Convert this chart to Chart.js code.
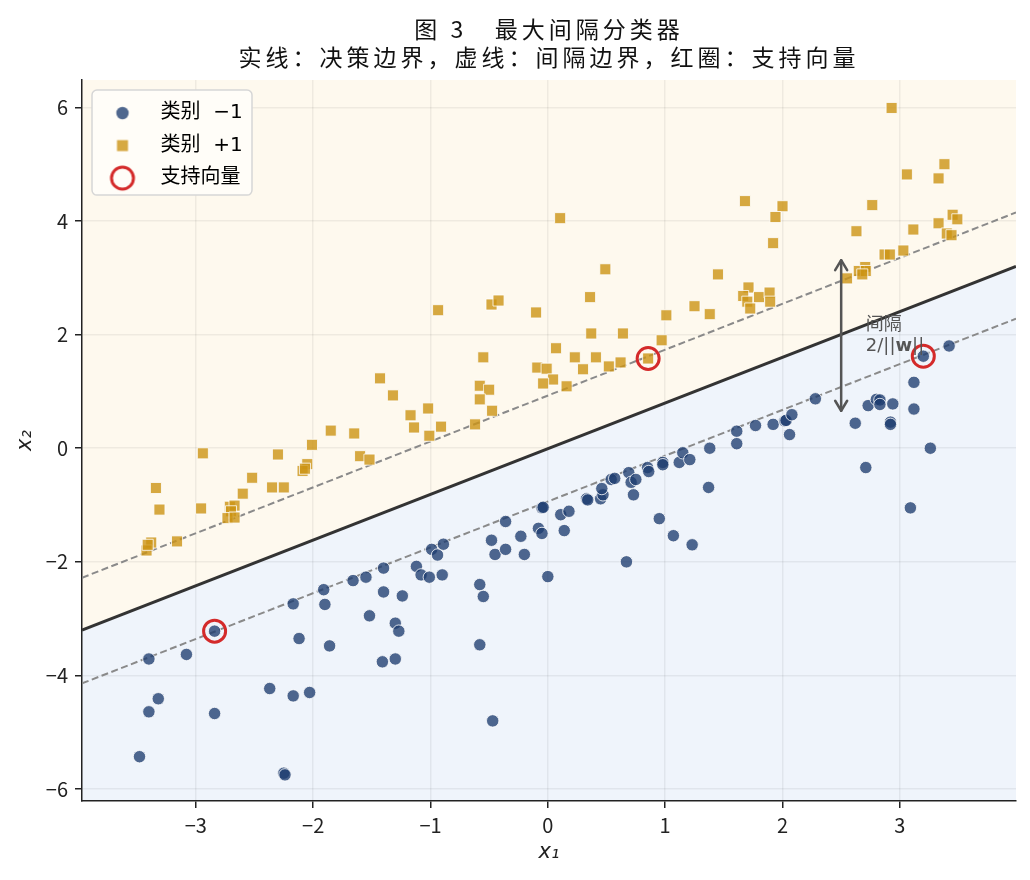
<!DOCTYPE html>
<html>
<head>
<meta charset="utf-8">
<script src="https://cdn.jsdelivr.net/npm/chart.js@4.4.1/dist/chart.umd.min.js"></script>
<style>
  html, body { margin: 0; padding: 0; background: #fff; }
</style>
</head>
<body>
<canvas id="chart" width="1030" height="880"></canvas>
<script>
// class -1 points (blue circles)
const negX = [-2.84, -3.40, -3.08, -3.32, -3.40, -2.84, -3.48, -2.25, -2.24, -2.17,
  -1.91, -1.90, -2.12, -1.86, -2.37, -2.17, -2.03, -1.66, -1.55, -1.40,
  -1.40, -1.52, -1.30, -1.27, -1.41, -1.30, -1.24, -1.12, -1.08, -1.01,
  -0.99, -0.94, -0.89, -0.90, -0.58, -0.55, -0.58, -0.47, -0.48, -0.45,
  -0.36, -0.36, -0.23, -0.20, -0.08, -0.05, -0.05, -0.04, 0.00, 0.11,
  0.18, 0.14, 0.33, 0.34, 0.45, 0.47, 0.46, 0.54, 0.57, 0.69,
  0.71, 0.75, 0.73, 0.67, 0.85, 0.86, 0.98, 0.98, 0.95, 1.07,
  1.12, 1.15, 1.21, 1.23, 1.37, 1.38, 1.61, 1.61, 1.77, 1.92,
  2.02, 2.03, 2.08, 2.06, 2.28, 2.62, 2.71, 2.73, 2.80, 2.83,
  2.83, 2.94, 2.92, 2.92, 3.12, 3.12, 3.20, 3.42, 3.26, 3.09];
const negY = [-3.22, -3.71, -3.63, -4.41, -4.64, -4.67, -5.43, -5.72, -5.75, -2.74,
  -2.49, -2.75, -3.35, -3.48, -4.23, -4.36, -4.30, -2.33, -2.27, -2.11,
  -2.53, -2.95, -3.08, -3.22, -3.76, -3.71, -2.60, -2.08, -2.23, -2.27,
  -1.78, -1.88, -1.69, -2.23, -2.40, -2.61, -3.46, -4.80, -1.62, -1.87,
  -1.78, -1.29, -1.55, -1.87, -1.41, -1.50, -1.05, -1.04, -2.26, -1.17,
  -1.11, -1.45, -0.89, -0.91, -0.89, -0.82, -0.71, -0.55, -0.53, -0.43,
  -0.60, -0.55, -0.82, -2.00, -0.34, -0.41, -0.25, -0.29, -1.24, -1.54,
  -0.25, -0.08, -0.20, -1.70, -0.69, 0.00, 0.30, 0.08, 0.40, 0.42,
  0.48, 0.49, 0.59, 0.24, 0.87, 0.44, -0.34, 0.75, 0.86, 0.85,
  0.77, 0.78, 0.46, 0.42, 1.16, 0.69, 1.62, 1.80, 0.00, -1.05];

// class +1 points (gold squares)
const posX = [-2.94, -2.30, -2.01, -1.60, -1.52, -2.05, -2.09, -2.07, -2.52, -3.34,
  -2.35, -2.25, -2.60, -3.31, -2.955, -2.71, -2.67, -2.70, -2.73, -2.67,
  -3.38, -3.42, -3.41, -3.16, -1.43, -1.32, -1.85, -1.65, 0.105, 0.49,
  0.36, -0.935, -0.48, -0.42, -0.10, 1.01, 1.25, 0.37, 0.64, 0.97,
  0.07, 0.23, 0.41, -0.55, 0.855, 0.62, 0.52, 0.30, -0.09, -0.01,
  0.045, -0.04, 0.16, -0.58, -0.50, -0.58, -0.475, -0.62, -1.17, -1.02,
  -1.14, -0.91, -1.01, 2.93, 3.38, 3.06, 3.33, 1.68, 2.00, 1.94,
  2.765, 3.45, 3.49, 3.33, 2.63, 3.115, 3.40, 3.44, 1.92, 1.45,
  2.87, 2.915, 3.03, 2.705, 2.65, 2.71, 2.68, 2.55, 1.71, 1.665,
  1.70, 1.725, 1.80, 1.89, 1.895, 1.38];
const posY = [-0.09, -0.11, 0.06, -0.14, -0.20, -0.28, -0.40, -0.36, -0.52, -0.70,
  -0.69, -0.69, -0.80, -1.08, -1.06, -1.03, -1.01, -1.11, -1.23, -1.22,
  -1.66, -1.80, -1.70, -1.64, 1.23, 0.93, 0.31, 0.26, 4.05, 3.15,
  2.66, 2.43, 2.53, 2.60, 2.39, 2.34, 2.50, 2.02, 2.02, 1.90,
  1.76, 1.60, 1.60, 1.60, 1.58, 1.51, 1.44, 1.39, 1.42, 1.40,
  1.21, 1.14, 1.09, 1.10, 1.03, 0.86, 0.66, 0.42, 0.58, 0.70,
  0.365, 0.38, 0.22, 5.99, 5.00, 4.82, 4.75, 4.35, 4.26, 4.07,
  4.28, 4.11, 4.03, 3.96, 3.82, 3.85, 3.78, 3.75, 3.61, 3.06,
  3.41, 3.41, 3.48, 3.19, 3.12, 3.12, 3.06, 2.99, 2.83, 2.68,
  2.58, 2.46, 2.66, 2.74, 2.58, 2.36];

// support vectors (red rings)
const svX = [-2.84, 0.855, 3.20];
const svY = [-3.22, 1.58, 1.62];

// decision boundary and margins, read at the left and right plot edges
const lineX = [-3.97, 3.99];
const boundaryY = [-3.20, 3.20];
const upperY = [-2.28, 4.15];
const lowerY = [-4.14, 2.28];

// margin arrow and its note
const arrowX = [2.5, 2.5];
const arrowY = [0.66, 3.31];
const noteX = 2.71;
const noteY = [2.21, 1.79];

// axis limits
const xRange = [-3.97, 3.99];
const yRange = [-6.21, 6.48];

const titleLines = ["图 3   最大间隔分类器", "实线：决策边界，虚线：间隔边界，红圈：支持向量"];
const legendText = ["类别  \u22121", "类别  +1", "支持向量"];

const CJK = "'Noto Sans CJK SC', 'Noto Sans', sans-serif";
const MIXED = "'DejaVu Sans', 'Noto Sans CJK SC', sans-serif";
const BLUE = "rgba(30,60,112,0.78)";
const GOLD = "rgba(204,148,20,0.8)";
const RED = "#d42a2a";

function toPoints(xs, ys) {
  return xs.map((x, i) => ({ x: x, y: ys[i] }));
}

// matplotlib style minus sign
function fmtTick(v) {
  return v < 0 ? "\u2212" + Math.abs(v) : String(v);
}

// small canvases used as legend markers
function makeMarker(kind) {
  const c = document.createElement("canvas");
  const s = kind === "sv" ? 30 : 18;
  c.width = s;
  c.height = s;
  const g = c.getContext("2d");
  g.translate(s / 2, s / 2);
  if (kind === "neg") {
    g.beginPath();
    g.arc(0, 0, 6.2, 0, Math.PI * 2);
    g.fillStyle = BLUE;
    g.fill();
  } else if (kind === "pos") {
    g.fillStyle = GOLD;
    g.fillRect(-5.5, -5.5, 11, 11);
  } else {
    g.beginPath();
    g.arc(0, 0, 11, 0, Math.PI * 2);
    g.strokeStyle = RED;
    g.lineWidth = 3;
    g.stroke();
  }
  return c;
}

const markers = [makeMarker("neg"), makeMarker("pos"), makeMarker("sv")];

// put legend in the top left corner of the plot, widen title letters
const layoutTweaks = {
  id: "layoutTweaks",
  afterLayout(chart) {
    const lg = chart.legend;
    const area = chart.chartArea;
    lg.left = area.left;
    lg.top = area.top + 10.5;
    lg.right = area.left + 240;
    lg.bottom = area.top + 160;

    const tb = chart.titleBlock;
    if (!tb._spaced) {
      const orig = tb.draw.bind(tb);
      tb.draw = function () {
        const ctx = chart.ctx;
        ctx.save();
        ctx.letterSpacing = "4px";
        orig();
        ctx.restore();
      };
      tb._spaced = true;
    }
  }
};

// legend frame, then redraw legend on top of it
const legendFrame = {
  id: "legendFrame",
  beforeDatasetsDraw(chart) {
    const lg = chart.legend;
    const ctx = chart.ctx;
    ctx.save();
    ctx.beginPath();
    ctx.roundRect(lg.left + 10, lg.top - 0.5, 160, 105, 5);
    ctx.fillStyle = "#fffdf8";
    ctx.fill();
    ctx.lineWidth = 1.5;
    ctx.strokeStyle = "#d6d6d6";
    ctx.stroke();
    ctx.restore();
    lg.draw();
  }
};

// double arrow for the margin width and its label
const marginNote = {
  id: "marginNote",
  afterDatasetsDraw(chart) {
    const ctx = chart.ctx;
    const xs = chart.scales.x;
    const ys = chart.scales.y;
    const px = xs.getPixelForValue(arrowX[0]);
    const pBottom = ys.getPixelForValue(arrowY[0]);
    const pTop = ys.getPixelForValue(arrowY[1]);

    ctx.save();
    ctx.strokeStyle = "#555";
    ctx.lineWidth = 2.5;
    ctx.lineCap = "round";
    ctx.lineJoin = "round";
    ctx.beginPath();
    ctx.moveTo(px, pBottom);
    ctx.lineTo(px, pTop);
    ctx.stroke();

    const head = (tipY, dir) => {
      ctx.beginPath();
      ctx.moveTo(px - 6, tipY + dir * 10);
      ctx.lineTo(px, tipY);
      ctx.lineTo(px + 6, tipY + dir * 10);
      ctx.stroke();
    };
    head(pTop, 1);
    head(pBottom, -1);

    // note text
    const tx = xs.getPixelForValue(noteX);
    ctx.fillStyle = "#555";
    ctx.textBaseline = "middle";
    ctx.textAlign = "left";
    ctx.font = "18px " + CJK;
    ctx.fillText("间隔", tx, ys.getPixelForValue(noteY[0]));

    const ly = ys.getPixelForValue(noteY[1]);
    let cx = tx;
    const parts = [["2/||", "normal"], ["w", "bold"], ["||", "normal"]];
    parts.forEach(p => {
      ctx.font = p[1] + " 18px " + MIXED;
      ctx.fillText(p[0], cx, ly);
      cx += ctx.measureText(p[0]).width;
    });
    ctx.restore();
  }
};

new Chart(document.getElementById("chart"), {
  type: "scatter",
  data: {
    datasets: [
      {
        label: "支持向量",
        data: toPoints(svX, svY),
        pointStyle: "circle",
        pointRadius: 11,
        backgroundColor: "rgba(0,0,0,0)",
        borderColor: RED,
        borderWidth: 3,
        order: 0
      },
      {
        label: "类别 −1",
        data: toPoints(negX, negY),
        pointStyle: "circle",
        pointRadius: 6.2,
        backgroundColor: BLUE,
        borderColor: "#ffffff",
        borderWidth: 0.8,
        order: 1
      },
      {
        label: "类别 +1",
        data: toPoints(posX, posY),
        pointStyle: "rect",
        pointRadius: 7.8,
        backgroundColor: GOLD,
        borderColor: "#ffffff",
        borderWidth: 0.8,
        order: 2
      },
      {
        type: "line",
        label: "boundary",
        data: toPoints(lineX, boundaryY),
        borderColor: "#333",
        borderWidth: 3,
        pointRadius: 0,
        fill: "end",
        backgroundColor: "#fef9ee",
        order: 3
      },
      {
        type: "line",
        label: "upper",
        data: toPoints(lineX, upperY),
        borderColor: "#8a8a8a",
        borderWidth: 2,
        borderDash: [7, 3.5],
        pointRadius: 0,
        fill: false,
        order: 4
      },
      {
        type: "line",
        label: "lower",
        data: toPoints(lineX, lowerY),
        borderColor: "#8a8a8a",
        borderWidth: 2,
        borderDash: [7, 3.5],
        pointRadius: 0,
        fill: false,
        order: 5
      },
      {
        type: "line",
        label: "lowerFill",
        data: toPoints(lineX, boundaryY),
        borderWidth: 0,
        pointRadius: 0,
        fill: "start",
        backgroundColor: "#eff4fb",
        order: 6
      }
    ]
  },
  options: {
    responsive: false,
    animation: false,
    layout: { padding: { left: 10, right: 13, top: 0, bottom: 0 } },
    plugins: {
      filler: { drawTime: "beforeDraw" },
      tooltip: { enabled: false },
      title: {
        display: true,
        fullSize: false,
        text: titleLines,
        color: "#111",
        font: { family: CJK, size: 23, weight: "normal", lineHeight: 1.22 },
        padding: { top: 15, bottom: 9 }
      },
      legend: {
        position: "chartArea",
        align: "start",
        labels: {
          usePointStyle: true,
          pointStyleWidth: 56,
          padding: 12.5,
          color: "#111",
          font: { family: MIXED, size: 20 },
          generateLabels: () => legendText.map((t, i) => ({
            text: t,
            pointStyle: markers[i],
            fillStyle: "rgba(0,0,0,0)",
            strokeStyle: "rgba(0,0,0,0)",
            lineWidth: 0,
            hidden: false,
            datasetIndex: i
          }))
        }
      }
    },
    scales: {
      x: {
        type: "linear",
        min: xRange[0],
        max: xRange[1],
        ticks: {
          stepSize: 1,
          includeBounds: false,
          autoSkip: false,
          maxRotation: 0,
          padding: 5,
          color: "#222",
          font: { family: CJK, size: 20 },
          callback: fmtTick
        },
        grid: { color: "rgba(0,0,0,0.06)", lineWidth: 1.5, tickLength: 7, tickColor: "#222", tickWidth: 1.5 },
        border: { display: true, color: "#222", width: 1.5 },
        title: {
          display: true,
          text: "x\u2081",
          color: "#222",
          font: { family: "'DejaVu Sans'", size: 21, style: "italic" },
          padding: { top: 0, bottom: 15 }
        },
        afterFit(scale) { scale.height = 79; }
      },
      y: {
        type: "linear",
        min: yRange[0],
        max: yRange[1],
        ticks: {
          stepSize: 2,
          includeBounds: false,
          autoSkip: false,
          padding: 7,
          color: "#222",
          font: { family: CJK, size: 20 },
          callback: fmtTick
        },
        grid: { color: "rgba(0,0,0,0.06)", lineWidth: 1.5, tickLength: 7, tickColor: "#222", tickWidth: 1.5 },
        border: { display: true, color: "#222", width: 1.5 },
        title: {
          display: true,
          text: "x\u2082",
          color: "#222",
          font: { family: "'DejaVu Sans'", size: 21, style: "italic" },
          padding: { top: 3, bottom: 0 }
        },
        afterFit(scale) { scale.width = 72; }
      }
    }
  },
  plugins: [layoutTweaks, legendFrame, marginNote]
});
</script>
</body>
</html>
